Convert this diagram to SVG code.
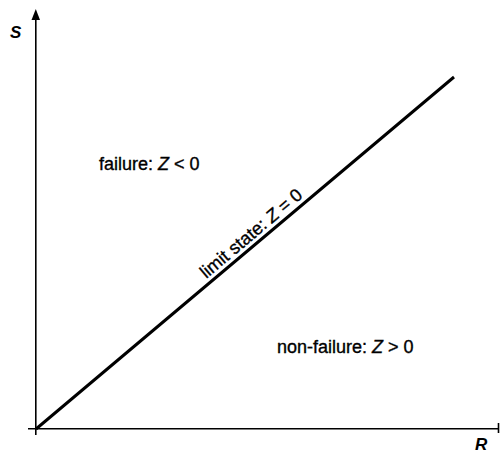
<svg xmlns="http://www.w3.org/2000/svg" width="500" height="454" viewBox="0 0 500 454">
<style>
.ax{stroke:#000;stroke-width:1.6;fill:none}
.lim{stroke:#000;stroke-width:3;fill:none}
.t{font-family:"Liberation Sans",Arial,sans-serif;font-size:18px;fill:#000;stroke:#000;stroke-width:0.35}
.v{font-family:"Liberation Sans",Arial,sans-serif;font-size:17px;font-style:italic;font-weight:bold;fill:#000}
</style>
<g id="connectors">
<path id="y-axis" class="ax" d="M35.8,435 V20"/>
<path d="M31.5,20 L35.8,9 L40,20 Z" fill="#000"/>
<path id="x-axis" class="ax" d="M28,428.8 H499"/>
<path class="ax" d="M498.5,423 V433"/>
<path id="limit-line" class="lim" d="M36,429 L454,77"/>
</g>
<g id="label-S"><text class="v" x="10" y="38">S</text></g>
<g id="label-R"><text class="v" x="475" y="450">R</text></g>
<g id="failure"><text class="t" x="99" y="170">failure: <tspan font-style="italic">Z</tspan> &lt; 0</text></g>
<g id="non-failure"><text class="t" x="277" y="353">non-failure: <tspan font-style="italic">Z</tspan> &gt; 0</text></g>
<g id="limit-state"><text class="t" text-anchor="middle" transform="translate(255,238) rotate(-40.1)">limit state: <tspan font-style="italic">Z</tspan> = 0</text></g>
</svg>
